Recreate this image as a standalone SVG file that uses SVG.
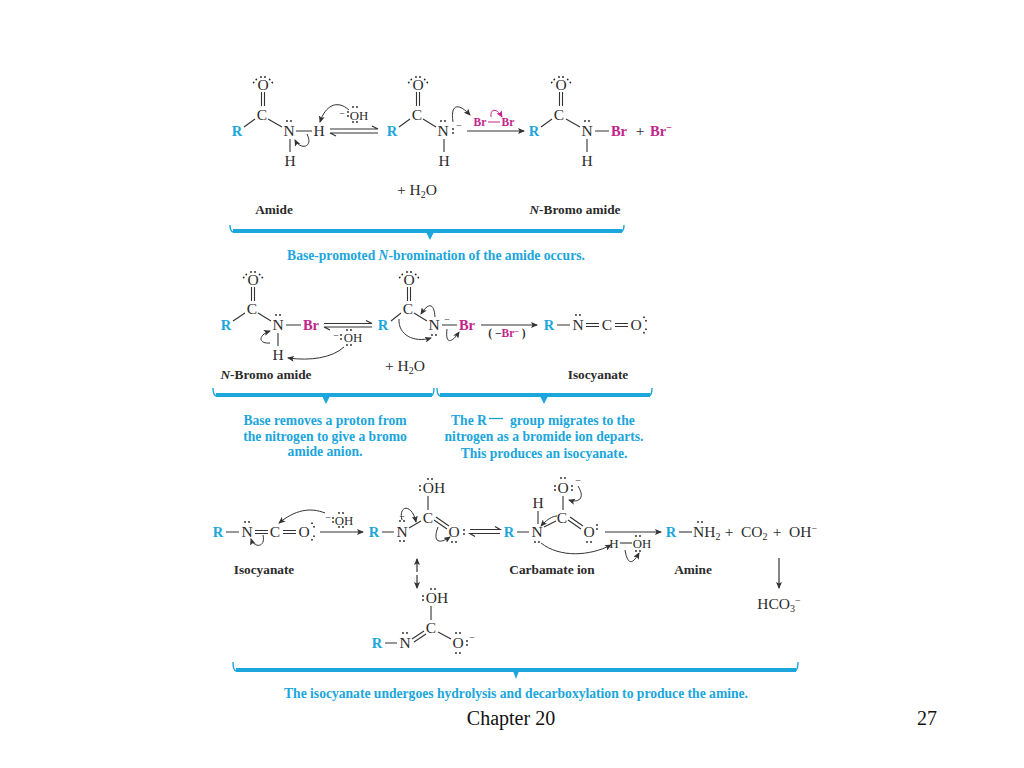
<svg xmlns="http://www.w3.org/2000/svg" width="1024" height="768" viewBox="0 0 1024 768">
<style>
text{font-family:"Liberation Serif","Times New Roman",serif;fill:#2b2b2b;text-anchor:middle}
.a{font-size:15.5px}
.o{font-size:12.8px}
.st{text-anchor:start}
.r{font-size:14.5px;font-weight:bold;fill:#1ba6dd}
.b{font-size:14.5px;font-weight:bold;fill:#c4248a}
.bs{font-size:11.5px;font-weight:bold;fill:#c4248a}
.l{font-size:13.3px;font-weight:bold}
.c{font-size:13.6px;font-weight:bold;fill:#1ba6dd}
.f{font-size:20px;fill:#111}
.s{font-size:10px}
.bond{stroke:#333;stroke-width:1.1;fill:none}
.rx{stroke:#333;stroke-width:1.2;fill:none;marker-end:url(#ah)}
.cv{stroke:#333;stroke-width:1;fill:none;marker-end:url(#ah)}
.cm{stroke:#c4248a;stroke-width:1;fill:none;marker-end:url(#am)}
.eq{stroke:#333;stroke-width:1.2;fill:none}
.br{stroke:#1ba6dd;stroke-width:4;fill:none}
.brt{stroke:#1ba6dd;stroke-width:1.4;fill:none}
.tip{fill:#1ba6dd}
.d{fill:#222}
</style>
<defs>
<marker id="ah" markerWidth="7" markerHeight="6" refX="6" refY="3" orient="auto" markerUnits="userSpaceOnUse"><path d="M0 0L7 3L0 6L1.500 3Z" fill="#333"/></marker>
<marker id="am" markerWidth="7" markerHeight="6" refX="6" refY="3" orient="auto" markerUnits="userSpaceOnUse"><path d="M0 0L7 3L0 6L1.500 3Z" fill="#c4248a"/></marker>
<g id="h"><circle class="d" cx="-2" cy="0" r="0.9"/><circle class="d" cx="2" cy="0" r="0.9"/></g>
<g id="v"><circle class="d" cx="0" cy="-2" r="0.9"/><circle class="d" cx="0" cy="2" r="0.9"/></g>
</defs>
<rect width="1024" height="768" fill="#fff"/>

<g id="amide">
<text class="a" x="263" y="90">O</text><text class="a" x="262" y="120">C</text><text class="r" x="237" y="136">R</text><text class="a" x="289" y="136">N</text><text class="a" x="319" y="136">H</text><text class="a" x="290" y="166">H</text>
<path class="bond" d="M261.500 92V106M264.500 92V106M255 119L244 127M268 119L282 127M296 131H312M290 139V152"/>
<use href="#h" x="263" y="77"/><use href="#h" x="255" y="81" transform="rotate(-50 255 81)"/><use href="#h" x="271" y="81" transform="rotate(50 271 81)"/><use href="#h" x="289" y="121"/>
</g>
<g id="hydroxide-1">
<text class="o" x="359" y="120">OH</text><text class="s" x="342" y="117">−</text>
<use href="#v" x="348" y="114"/><use href="#h" x="355" y="107"/><use href="#h" x="355" y="122"/>
</g>
<g id="amide-anion">
<text class="a" x="418" y="90">O</text><text class="a" x="417" y="120">C</text><text class="r" x="392" y="136">R</text><text class="a" x="443" y="136">N</text><text class="a" x="444" y="166">H</text>
<path class="bond" d="M416.500 92V106M419.500 92V106M410 119L399 127M423 119L436 127M444 139V152"/>
<use href="#h" x="418" y="77"/><use href="#h" x="410" y="81" transform="rotate(-50 410 81)"/><use href="#h" x="426" y="81" transform="rotate(50 426 81)"/><use href="#h" x="443" y="121"/><use href="#v" x="453" y="131"/><text class="s" x="459" y="129">−</text>
</g>
<g id="bromine">
<text class="bs" x="480" y="126">Br</text><text class="bs" x="508" y="126">Br</text><path d="M488 122H500" stroke="#c4248a" stroke-width="1" fill="none"/>
</g>
<g id="n-bromo-amide-1">
<text class="a" x="561" y="90">O</text><text class="a" x="559" y="120">C</text><text class="r" x="534" y="136">R</text><text class="a" x="587" y="136">N</text><text class="b" x="619" y="136">Br</text><text class="a" x="640" y="136">+</text><text class="b" x="661" y="136">Br<tspan font-size="10" dy="-5">−</tspan></text><text class="a" x="587" y="166">H</text>
<path class="bond" d="M559.500 92V106M562.500 92V106M552 119L541 127M566 119L580 127M595 131H609M587 139V152"/>
<use href="#h" x="561" y="77"/><use href="#h" x="553" y="81" transform="rotate(-50 553 81)"/><use href="#h" x="569" y="81" transform="rotate(50 569 81)"/><use href="#h" x="587" y="121"/>
</g>
<g id="water-1"><text class="a" x="417" y="195">+ H<tspan font-size="10" dy="3">2</tspan><tspan dy="-3">O</tspan></text></g>
<g id="labels-1"><text class="l" x="274" y="214">Amide</text><text class="l" x="575" y="214"><tspan font-style="italic">N</tspan>-Bromo amide</text><text class="c" x="436" y="260">Base-promoted <tspan font-style="italic">N</tspan>-bromination of the amide occurs.</text></g>

<g id="n-bromo-amide-2">
<text class="a" x="253" y="285">O</text><text class="a" x="252" y="314">C</text><text class="r" x="226" y="330">R</text><text class="a" x="278" y="330">N</text><text class="b" x="311" y="330">Br</text><text class="a" x="278" y="360">H</text>
<path class="bond" d="M251.500 287V301M254.500 287V301M245 313L233 321M258 313L271 321M286 325H301M278 333V346"/>
<use href="#h" x="253" y="272"/><use href="#h" x="245" y="276" transform="rotate(-50 245 276)"/><use href="#h" x="261" y="276" transform="rotate(50 261 276)"/><use href="#h" x="278" y="315"/>
</g>
<g id="hydroxide-2">
<text class="o" x="353" y="342">OH</text><text class="s" x="336" y="339">−</text><use href="#v" x="341" y="337"/><use href="#h" x="349" y="330"/><use href="#h" x="349" y="345"/>
</g>
<g id="bromo-anion">
<text class="a" x="409" y="285">O</text><text class="a" x="408" y="314">C</text><text class="r" x="383" y="330">R</text><text class="a" x="434" y="330">N</text><text class="b" x="467" y="330">Br</text>
<path class="bond" d="M407.500 287V301M410.500 287V301M401 313L391 321M414 313L427 321M442 325H457"/>
<use href="#h" x="409" y="272"/><use href="#h" x="401" y="276" transform="rotate(-50 401 276)"/><use href="#h" x="417" y="276" transform="rotate(50 417 276)"/><use href="#h" x="434" y="335"/><text class="s" x="447" y="323">−</text>
</g>
<g id="isocyanate-1">
<text class="r" x="549" y="330">R</text><text class="a" x="578" y="330">N</text><text class="a" x="607" y="330">C</text><text class="a" x="636" y="330">O</text>
<path class="bond" d="M557 325H570M586 323.500H599M586 326.500H599M615 323.500H628M615 326.500H628"/>
<use href="#h" x="578" y="315"/><use href="#h" x="645" y="319" transform="rotate(60 645 319)"/><use href="#h" x="645" y="331" transform="rotate(-60 645 331)"/>
</g>
<g id="loss-of-bromide"><text class="bs" x="507" y="337" style="fill:#333">(<tspan fill="#333"> −</tspan><tspan fill="#c4248a">Br</tspan><tspan fill="#c4248a" dy="-3" font-size="8">−</tspan><tspan dy="3" fill="#333"> )</tspan></text></g>
<g id="water-2"><text class="a" x="405" y="371">+ H<tspan font-size="10" dy="3">2</tspan><tspan dy="-3">O</tspan></text></g>
<g id="labels-2"><text class="l" x="266" y="379"><tspan font-style="italic">N</tspan>-Bromo amide</text><text class="l" x="598" y="379">Isocyanate</text>
<text class="c" x="325" y="425">Base removes a proton from</text><text class="c" x="325" y="441">the nitrogen to give a bromo</text><text class="c" x="325" y="456">amide anion.</text>
<text class="c st" x="451" y="425">The R</text><text class="c st" x="510" y="425">group migrates to the</text><path d="M489 418.500H503" stroke="#1ba6dd" stroke-width="1.300"/><text class="c" x="544" y="441">nitrogen as a bromide ion departs.</text><text class="c" x="544" y="458">This produces an isocyanate.</text></g>

<g id="isocyanate-2">
<text class="r" x="218" y="537">R</text><text class="a" x="247" y="537">N</text><text class="a" x="275" y="537">C</text><text class="a" x="304" y="537">O</text>
<path class="bond" d="M226 532H239M255 530.500H268M255 533.500H268M283 530.500H296M283 533.500H296"/>
<use href="#h" x="247" y="522"/><use href="#h" x="313" y="525" transform="rotate(60 313 525)"/><use href="#h" x="313" y="538" transform="rotate(-60 313 538)"/>
</g>
<g id="hydroxide-3">
<text class="o" x="344" y="525">OH</text><text class="s" x="328" y="521">−</text><use href="#v" x="333" y="520"/><use href="#h" x="341" y="513"/><use href="#h" x="341" y="527"/>
</g>
<g id="intermediate">
<text class="a" x="434" y="493">OH</text><text class="a" x="428" y="523">C</text><text class="r" x="374" y="537">R</text><text class="a" x="402" y="537">N</text><text class="a" x="454" y="537">O</text>
<path class="bond" d="M428 496V510M382 532H394M409 528L421 521M434 520L447 529M436 517L449 526"/>
<use href="#v" x="420" y="488"/><use href="#h" x="430" y="479"/><use href="#h" x="402" y="521"/><use href="#h" x="402" y="541"/><use href="#v" x="464" y="532"/><use href="#h" x="454" y="542"/><text class="s" x="402" y="520">−</text>
</g>
<g id="carbamate">
<text class="r" x="509" y="537">R</text><text class="a" x="537" y="537">N</text><text class="a" x="538" y="508">H</text><text class="a" x="562" y="523">C</text><text class="a" x="563" y="493">O</text><text class="a" x="589" y="537">O</text><text class="s" x="578" y="484">−</text>
<path class="bond" d="M517 532H529M538 511V524M544 527L556 521M563 496V510M568 520L581 529M570 517L583 526"/>
<use href="#v" x="555" y="488"/><use href="#h" x="563" y="478"/><use href="#v" x="572" y="488"/><use href="#v" x="597" y="527"/><use href="#h" x="589" y="542"/><use href="#h" x="537" y="542"/>
</g>
<g id="water-3">
<text class="a" x="614" y="548" font-size="13" style="font-size:13px">H</text><text class="o" x="642" y="548">OH</text><path class="bond" d="M620 543H632"/><use href="#h" x="638" y="536"/><use href="#h" x="638" y="551"/>
</g>
<g id="products">
<text class="r" x="671" y="537">R</text><path class="bond" d="M679 532H692"/>
<text class="a st" x="693" y="537">NH<tspan font-size="10" dy="3">2</tspan></text><use href="#h" x="700" y="522"/>
<text class="a" x="729" y="537">+</text><text class="a st" x="741" y="537">CO<tspan font-size="10" dy="3">2</tspan></text><text class="a" x="777" y="537">+</text>
<text class="a st" x="789" y="537">OH<tspan font-size="10" dy="-5">−</tspan></text>
</g>
<g id="bicarbonate"><text class="a" x="779" y="609">HCO<tspan font-size="10" dy="3">3</tspan><tspan font-size="10" dy="-8">−</tspan></text></g>
<g id="resonance-form">
<text class="a" x="437" y="603">OH</text><text class="a" x="431" y="633">C</text><text class="r" x="377" y="648">R</text><text class="a" x="405" y="648">N</text><text class="a" x="458" y="648">O</text><text class="s" x="472" y="641">−</text>
<path class="bond" d="M431 606V620M385 643H397M412 639L424 631M414 642L426 634M438 632L451 639"/>
<use href="#v" x="423" y="598"/><use href="#h" x="433" y="589"/><use href="#h" x="405" y="633"/><use href="#h" x="458" y="633"/><use href="#h" x="458" y="653"/><use href="#v" x="467" y="643"/>
</g>
<g id="labels-3"><text class="l" x="264" y="574">Isocyanate</text><text class="l" x="552" y="574">Carbamate ion</text><text class="l" x="693" y="574">Amine</text>
<text class="c" x="516" y="698">The isocyanate undergoes hydrolysis and decarboxylation to produce the amine.</text></g>
<g id="footer"><text class="f" x="511" y="725">Chapter 20</text><text class="f" x="927" y="725">27</text></g>

<g id="connectors">
<path class="eq" d="M330 129H378L372 126M378 133H330L336 136"/>
<path class="rx" d="M467 131H524"/>
<path class="eq" d="M324 323.500H372L366 320.500M372 327H324L330 330"/>
<path class="rx" d="M481 325H537"/>
<path class="rx" d="M320 532H363"/>
<path class="eq" d="M470 529.500H500L495 526.500M500 533.500H470L475 536.500"/>
<path class="rx" d="M605 532H661"/>
<path class="rx" d="M779 558V588"/>
<path class="rx" d="M417 572V559"/><path class="rx" d="M417 575V588"/>

<path class="cv" d="M349 110C337 99 325 106 320 122"/>
<path class="cv" d="M307 134C314 148 300 150 295 140"/>
<path class="cv" d="M453 122C450 102 460 104 470 115"/>
<path class="cm" d="M491 117C490 108 497 108 502 117"/>
<path class="cv" d="M270 343C258 344 258 335 270 331"/>
<path class="cv" d="M344 347C332 358 310 361 288 358"/>
<path class="cv" d="M435 317C434 302 428 303 421 314"/>
<path class="cv" d="M399 319C398 335 414 343 431 338"/>
<path class="cv" d="M447 329C445 345 452 343 459 332"/>
<path class="cv" d="M325 513C310 507 295 510 279 523"/>
<path class="cv" d="M263 535C266 548 254 548 251 539"/>
<path class="cv" d="M402 520C398 505 412 503 416 522"/>
<path class="cv" d="M438 527C432 543 440 544 450 537"/>
<path class="cv" d="M578 486C586 499 578 503 569 500"/>
<path class="cv" d="M557 516C555 516 549 517 541 526"/>
<path class="cv" d="M541 543C560 558 590 556 611 545"/>
<path class="cv" d="M625 550C628 568 634 562 639 553"/>

<path class="br" d="M233 231H622"/><path class="brt" d="M230 225Q230 231 233 232M624 225Q624 231 621 232"/><path class="tip" d="M426 232L430 240L434 232Z"/>
<path class="br" d="M216 395H432"/><path class="brt" d="M213 388Q213 395 216 396M434 388Q434 395 431 396"/><path class="tip" d="M322 396L326 404L330 396Z"/>
<path class="br" d="M440 395H650"/><path class="brt" d="M437 388Q437 395 440 396M652 388Q652 395 649 396"/><path class="tip" d="M540 396L544 404L548 396Z"/>
<path class="br" d="M236 670H796"/><path class="brt" d="M233 662Q233 670 236 671M798 662Q798 670 795 671"/><path class="tip" d="M513 671L516 679L519 671Z"/>
</g>
</svg>
